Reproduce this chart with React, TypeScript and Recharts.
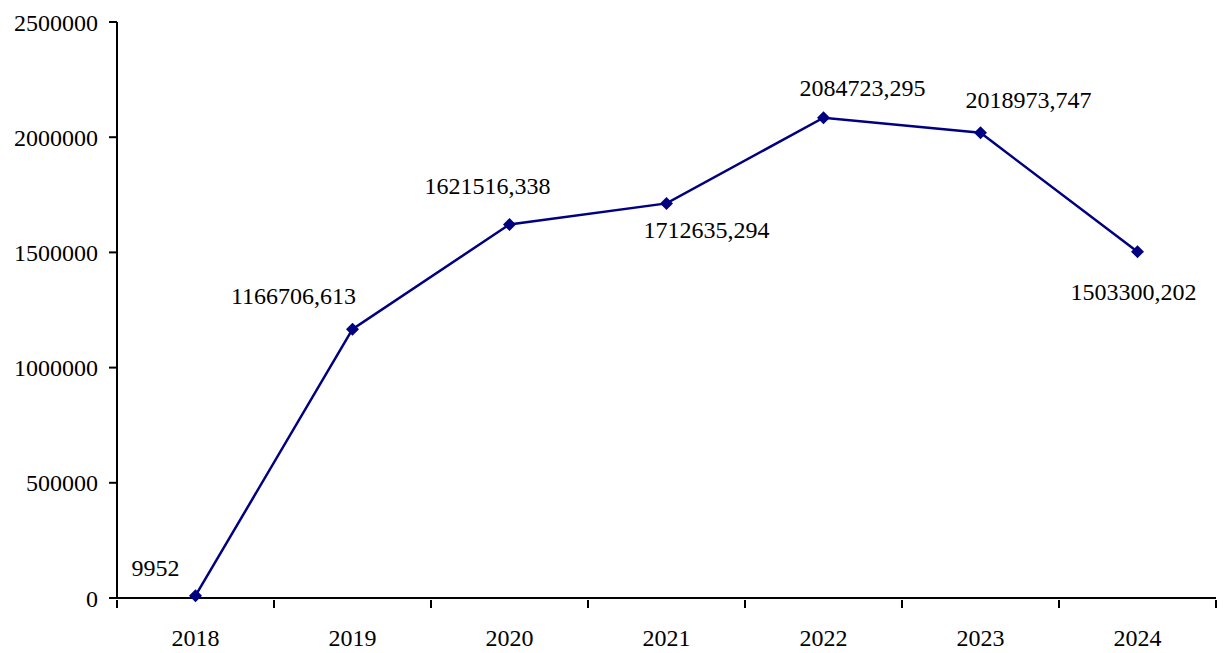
import React from "react";
import { LineChart, Line, XAxis, YAxis, LabelList } from "recharts";

const years = ["2018", "2019", "2020", "2021", "2022", "2023", "2024"];
const values = [9952, 1166706.613, 1621516.338, 1712635.294, 2084723.295, 2018973.747, 1503300.202];
const yTicks = [0, 500000, 1000000, 1500000, 2000000, 2500000];

const data = years.map((year, i) => ({ year, value: values[i] }));

const FONT = "'Liberation Serif', 'Times New Roman', serif";
const NAVY = "#000080";
const W = 1224;
const H = 653;
const M = { top: 22, right: 8, bottom: 0, left: 0 };

// label offsets relative to each point (dx, dy of text centre)
const labelOffsets: [number, number][] = [
  [-40, -28],
  [-59, -33],
  [-22, -38],
  [40, 27],
  [39, -30],
  [48, -33],
  [-4, 40],
];

function fmt(v: number) {
  return String(v).replace(".", ",");
}

function Diamond(props: any) {
  const { cx, cy } = props;
  if (cx == null || cy == null) return null;
  const r = 6.5;
  return (
    <polygon
      points={`${cx},${cy - r} ${cx + r},${cy} ${cx},${cy + r} ${cx - r},${cy}`}
      fill={NAVY}
    />
  );
}

function PointLabel(props: any) {
  const { x, y, value, index } = props;
  const [dx, dy] = labelOffsets[index] || [0, -20];
  return (
    <text
      x={x + dx}
      y={y + dy}
      textAnchor="middle"
      dominantBaseline="central"
      fontFamily={FONT}
      fontSize={24}
      fill="#000"
    >
      {fmt(value)}
    </text>
  );
}

function YearTick(props: any) {
  const { x, y, payload, index } = props;
  const plotW = W - 117 - M.right;
  const half = payload && payload.offset ? payload.offset : plotW / years.length / 2;
  return (
    <g>
      <line x1={x - half} y1={y} x2={x - half} y2={y + 8} stroke="#000" strokeWidth={2} />
      {index === years.length - 1 && (
        <line x1={x + half} y1={y} x2={x + half} y2={y + 8} stroke="#000" strokeWidth={2} />
      )}
      <text
        x={x}
        y={y + 46}
        textAnchor="middle"
        fontFamily={FONT}
        fontSize={24}
        fill="#000"
      >
        {payload.value}
      </text>
    </g>
  );
}

export default function App() {
  return (
    <div style={{ position: "absolute", left: 0, top: 0, background: "#fff" }}>
      <LineChart width={W} height={H} data={data} margin={M}>
        <XAxis
          dataKey="year"
          scale="band"
          height={55}
          axisLine={{ stroke: "#000", strokeWidth: 2 }}
          tickLine={false}
          tickSize={0}
          tick={<YearTick />}
          interval={0}
        />
        <YAxis
          width={117}
          domain={[0, 2500000]}
          ticks={yTicks}
          interval={0}
          axisLine={{ stroke: "#000", strokeWidth: 2 }}
          tickLine={{ stroke: "#000", strokeWidth: 2 }}
          tickSize={8}
          tickMargin={11}
          tick={{ fill: "#000", fontSize: 24, fontFamily: FONT }}
        />
        <Line
          dataKey="value"
          stroke={NAVY}
          strokeWidth={2.5}
          type="linear"
          dot={<Diamond />}
          activeDot={false}
          isAnimationActive={false}
        >
          <LabelList dataKey="value" content={<PointLabel />} />
        </Line>
      </LineChart>
    </div>
  );
}
